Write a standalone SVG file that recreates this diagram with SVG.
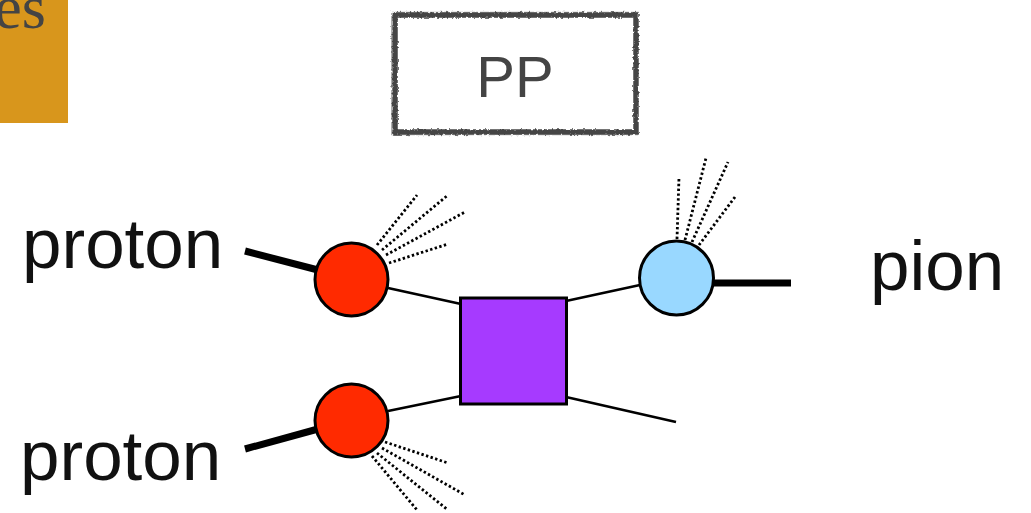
<svg xmlns="http://www.w3.org/2000/svg" width="1031" height="513" viewBox="0 0 1031 513">
<style>
.lbl{font-family:"Liberation Sans",Arial,sans-serif;font-size:71px;fill:#111}
.thick{stroke:#000;stroke-width:7;fill:none}
.thin{stroke:#000;stroke-width:2.6;fill:none}
.dot{stroke:#000;stroke-width:2.8;stroke-dasharray:2.4 2.4;fill:none}
.blob{stroke:#000;stroke-width:3}
.sk{fill:none;stroke:#454545}
</style>
<defs>
<filter id="rough" x="-5%" y="-10%" width="110%" height="120%">
<feTurbulence type="fractalNoise" baseFrequency="0.35" numOctaves="2" seed="3"/>
<feDisplacementMap in="SourceGraphic" scale="3.5"/>
</filter>
</defs>
<rect width="1031" height="513" fill="#fff"/>
<g id="corner">
<rect x="0" y="0" width="68" height="123" fill="#D8961C"/>
<text x="46" y="28" text-anchor="end" font-family="'Liberation Serif',serif" font-size="62" fill="#444">es</text>
</g>
<g id="title">
<g filter="url(#rough)">
<rect class="sk" x="395" y="15" width="241" height="117" stroke-width="5"/>
<rect class="sk" x="392" y="12.5" width="246" height="122" stroke-width="1.4" opacity="0.6"/>
<rect class="sk" x="397.5" y="17.5" width="236" height="112" stroke-width="1" opacity="0.5"/>
</g>
<text x="515" y="97" text-anchor="middle" font-family="'Liberation Sans',Arial,sans-serif" font-size="58" fill="#444">PP</text>
</g>
<g id="connectors">
<line class="thick" x1="245" y1="251" x2="318" y2="270"/>
<line class="thick" x1="245" y1="449" x2="318" y2="429"/>
<line class="thick" x1="712" y1="283" x2="791" y2="283"/>
<line class="thin" x1="388" y1="288" x2="461" y2="304"/>
<line class="thin" x1="388" y1="411" x2="461" y2="396"/>
<line class="thin" x1="566" y1="301" x2="640" y2="285"/>
<line class="thin" x1="566" y1="397" x2="676" y2="422"/>
<line class="dot" x1="377" y1="245" x2="417" y2="195"/>
<line class="dot" x1="382" y1="250" x2="448" y2="195"/>
<line class="dot" x1="386" y1="255" x2="465" y2="212"/>
<line class="dot" x1="389" y1="263" x2="448" y2="244"/>
<line class="dot" x1="385" y1="442" x2="448" y2="463"/>
<line class="dot" x1="382" y1="448" x2="465" y2="495"/>
<line class="dot" x1="377" y1="453" x2="448" y2="510"/>
<line class="dot" x1="372" y1="456" x2="417" y2="510"/>
<line class="dot" x1="677" y1="239" x2="679" y2="177"/>
<line class="dot" x1="685" y1="240" x2="706" y2="158"/>
<line class="dot" x1="692" y1="242" x2="728" y2="162"/>
<line class="dot" x1="699" y1="245" x2="735" y2="197"/>
</g>
<g id="proton1-label"><text class="lbl" x="22" y="268">proton</text></g>
<g id="proton2-label"><text class="lbl" x="20" y="480">proton</text></g>
<g id="pion-label"><text class="lbl" x="870" y="290">pion</text></g>
<g id="blob-top"><circle class="blob" cx="351.5" cy="279.5" r="36.5" fill="#FF2A00"/></g>
<g id="blob-bottom"><circle class="blob" cx="351.5" cy="420.5" r="36.5" fill="#FF2A00"/></g>
<g id="blob-pion"><circle class="blob" cx="676.5" cy="278" r="37" fill="#99D8FF"/></g>
<g id="vertex"><rect class="blob" x="460.5" y="298" width="106" height="106" fill="#A63AFF"/></g>
</svg>
